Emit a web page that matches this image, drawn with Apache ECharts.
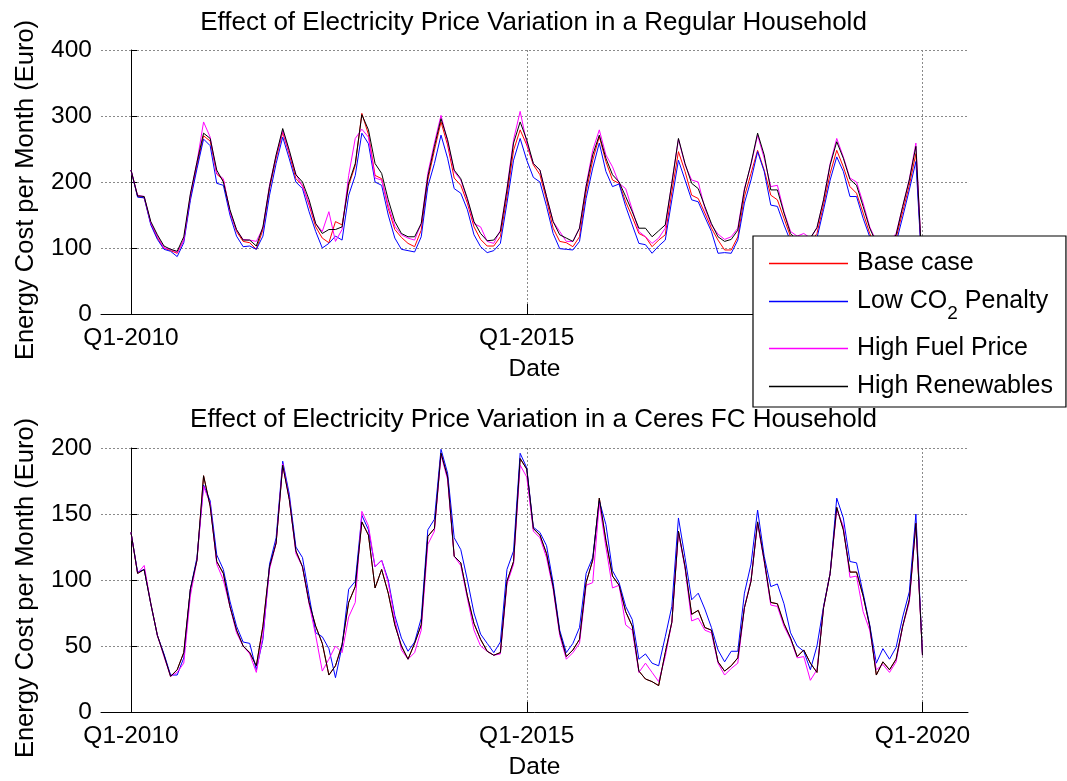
<!DOCTYPE html>
<html><head><meta charset="utf-8">
<script src="https://cdn.jsdelivr.net/npm/echarts@6/dist/echarts.min.js"></script>
<style>html,body{margin:0;padding:0;background:#fff}#c{width:1067px;height:781px}</style>
</head><body><div id="c"></div>
<script>
// ---- data (monthly, index 0 = Jan 2010 ... 120 = Jan 2020) ----
const tickValues = [0, 60, 120];
const tickLabels = ['Q1-2010', 'Q1-2015', 'Q1-2020'];
const seriesNames = ['Base case', 'Low CO2 Penalty', 'High Fuel Price', 'High Renewables'];
const titles = ['Effect of Electricity Price Variation in a Regular Household',
                'Effect of Electricity Price Variation in a Ceres FC Household'];

const baseTop = [
218,178,176,137,115,100,96,92,112,176,225,270,
262,212,203,155,125,110,108,98,128,190,236,275,
242,205,195,165,132,115,108,140,135,195,225,304,
272,210,205,160,128,116,107,102,127,203,248,291,
256,206,195,168,132,113,103,103,117,178,248,279,
256,226,211,173,130,110,108,102,117,185,233,269,
231,203,198,170,147,122,117,102,112,120,185,246,
216,180,175,153,130,112,97,97,117,178,213,248,
218,180,173,145,117,105,103,108,122,165,213,248,
223,193,183,153,122,100,97,100,115,155,195,243,
58];
const lowCO2Top = [
218,177,176,135,113,98,95,87,108,172,220,265,
255,198,195,150,118,102,103,98,118,180,228,268,
235,200,190,155,125,100,107,118,112,180,210,274,
258,200,195,150,115,98,96,94,117,193,228,271,
236,190,183,158,120,102,93,96,107,168,233,266,
233,207,200,163,122,99,98,97,110,175,221,259,
216,193,197,163,135,107,105,92,103,112,173,233,
203,173,170,147,125,92,93,92,112,168,203,246,
216,165,163,135,110,95,93,100,115,158,203,238,
216,178,178,145,117,95,92,95,108,147,188,231,
55];
const highFuelTop = [
218,180,178,138,118,100,98,93,112,180,230,291,
268,213,205,155,127,113,112,110,130,195,240,278,
245,212,193,168,137,125,155,110,128,210,266,280,
268,206,203,165,133,120,115,112,137,213,259,301,
261,216,203,173,137,132,110,107,127,190,264,307,
259,228,218,178,140,125,110,110,130,195,248,279,
241,223,198,190,158,125,117,107,115,130,200,265,
226,203,200,160,135,121,113,117,130,190,226,271,
236,193,195,155,125,118,122,115,130,173,228,266,
238,206,200,168,132,110,107,110,122,163,204,259,
60];
const highRenewTop = [
218,179,178,140,120,103,98,95,117,182,230,274,
266,218,200,158,128,112,112,103,132,193,241,281,
248,211,200,173,137,122,128,128,132,198,228,302,
279,228,213,173,140,122,117,117,137,208,254,296,
264,218,205,175,140,122,111,112,125,188,259,291,
264,228,218,178,140,120,115,110,130,193,241,271,
236,211,200,178,155,130,130,117,126,135,198,266,
228,198,190,163,137,117,110,113,127,188,228,274,
241,188,188,153,122,112,110,115,131,173,226,261,
236,204,195,163,130,108,105,108,120,163,203,254,
60];

const baseBottom = [
136,105,108,82,58,43,27,32,45,93,115,179,
156,114,105,80,62,50,45,35,65,110,128,187,
161,122,110,83,65,52,28,35,51,83,95,144,
134,94,108,90,66,50,40,52,66,133,139,196,
178,118,113,88,67,55,46,43,45,99,114,192,
184,139,134,120,95,60,42,47,55,98,115,162,
130,103,96,76,65,31,25,23,20,45,68,137,
110,74,77,64,62,38,31,35,41,79,99,144,
115,83,82,67,56,42,47,37,30,79,105,155,
138,106,106,88,65,28,38,32,40,65,85,143,
43];
const lowCO2Bottom = [
136,106,108,82,58,44,28,28,41,93,117,172,
160,119,108,84,65,53,52,32,55,112,132,190,
165,125,117,88,60,57,48,26,50,93,99,149,
138,110,115,100,73,56,46,53,71,138,146,199,
181,132,123,100,75,59,52,45,53,108,122,196,
185,140,136,126,98,62,45,52,64,105,117,160,
142,107,98,80,70,40,44,37,35,57,80,147,
117,85,90,78,64,47,38,46,46,90,112,153,
118,95,97,82,60,50,46,32,50,80,105,162,
147,114,113,90,66,37,48,40,49,72,91,150,
43];
const highFuelBottom = [
136,105,111,82,58,42,27,30,37,88,115,171,
158,112,100,80,60,50,44,30,58,108,128,188,
162,120,110,82,58,31,40,50,45,72,83,152,
141,110,115,98,70,47,40,45,62,127,137,195,
176,118,111,86,62,50,46,43,44,97,112,187,
178,137,132,117,93,58,40,45,52,96,98,158,
125,94,96,66,62,30,37,30,23,42,68,136,
109,69,71,62,60,37,28,33,37,79,100,143,
114,81,80,65,55,41,42,24,32,79,105,153,
141,102,103,76,62,32,36,30,38,65,83,143,
43];
const highRenewBottom = [
136,105,108,82,58,43,27,32,45,93,115,179,
156,114,105,80,62,50,45,35,65,110,128,187,
161,122,110,83,65,52,28,35,51,83,95,144,
134,94,108,90,66,50,40,52,66,133,139,196,
178,118,113,88,67,55,46,43,45,99,114,192,
184,139,134,120,95,60,42,47,55,98,115,162,
130,103,96,76,65,31,25,23,20,45,68,137,
110,74,77,64,62,38,31,35,41,79,99,144,
115,83,82,67,56,42,47,37,30,79,105,155,
138,106,106,88,65,28,38,32,40,65,85,143,
43];

// ---- styling ----
const FONT = "'Liberation Sans', Arial, Helvetica, sans-serif";
const FS = 24.5;
const colors = ['#ff0000', '#0000ff', '#ff00ff', '#000000'];
const gridLine = { show: true, lineStyle: { color: '#8a8a8a', width: 1, type: [2, 2] } };

function xAxisCfg(gi) {
  return {
    type: 'value', gridIndex: gi, min: -4.55, max: 126.9,
    name: 'Date', nameLocation: 'middle', nameGap: 43,
    nameTextStyle: { fontFamily: FONT, fontSize: FS, color: '#000' },
    axisLine: { show: true, onZero: false, lineStyle: { color: '#000', width: 1 } },
    axisTick: { show: true, inside: true, length: 10, customValues: tickValues, lineStyle: { color: '#000' } },
    axisLabel: { customValues: tickValues, margin: 12, fontFamily: FONT, fontSize: FS, color: '#000',
      formatter: v => { const k = tickValues.indexOf(v); return k >= 0 ? tickLabels[k] : ''; } },
    splitLine: gridLine
  };
}
function yAxisCfg(gi, max, interval) {
  return {
    type: 'value', gridIndex: gi, min: 0, max: max, interval: interval,
    name: 'Energy Cost per Month (Euro)', nameLocation: 'middle', nameGap: 62,
    nameTextStyle: { fontFamily: FONT, fontSize: 25.5, color: '#000', padding: [0, 16, 0, 0] },
    axisLine: { show: true, lineStyle: { color: '#000', width: 1 } },
    axisTick: { show: true, inside: true, length: 6, lineStyle: { color: '#000' } },
    axisLabel: { margin: 9, fontFamily: FONT, fontSize: FS, color: '#000' },
    splitLine: gridLine
  };
}
function mk(k, vals, gi) {
  return {
    type: 'line', name: seriesNames[k], xAxisIndex: gi, yAxisIndex: gi,
    data: vals.map((v, i) => [i, v]),
    symbol: 'none', showSymbol: false, color: colors[k],
    lineStyle: { color: colors[k], width: 1 },
    itemStyle: { color: colors[k] },
    emphasis: { disabled: true }, silent: true, animation: false
  };
}

const chart = echarts.init(document.getElementById('c'), null, { renderer: 'canvas' });
chart.setOption({
  animation: false,
  backgroundColor: '#fff',
  title: [
    { text: titles[0], left: 'center', top: 5, textStyle: { fontFamily: FONT, fontSize: 26, fontWeight: 'normal', color: '#000' } },
    { text: titles[1], left: 'center', top: 402, textStyle: { fontFamily: FONT, fontSize: 26, fontWeight: 'normal', color: '#000' } }
  ],
  grid: [
    { left: 101, top: 50, width: 867, height: 264, outerBoundsMode: 'none', containLabel: false },
    { left: 101, top: 448, width: 867, height: 264, outerBoundsMode: 'none', containLabel: false }
  ],
  xAxis: [xAxisCfg(0), xAxisCfg(1)],
  yAxis: [yAxisCfg(0, 400, 100), yAxisCfg(1, 200, 50)],
  legend: {
    orient: 'vertical', left: 753, top: 236,
    icon: 'rect', itemWidth: 79, itemHeight: 1.5, itemGap: 13,
    padding: [15, 13, 8, 16],
    backgroundColor: '#fff', borderColor: '#000', borderWidth: 1.2, borderRadius: 0,
    data: seriesNames,
    selectedMode: false,
    formatter: n => n === 'Low CO2 Penalty' ? 'Low CO{sub|2} Penalty' : n,
    textStyle: {
      fontFamily: FONT, fontSize: 25, color: '#000', padding: [0, 0, 0, 4],
      rich: { sub: { fontFamily: FONT, fontSize: 19, color: '#000', lineHeight: 1, verticalAlign: 'top', padding: [15, 0, 0, 0] } }
    }
  },
  series: [
    mk(0, baseTop, 0), mk(1, lowCO2Top, 0), mk(2, highFuelTop, 0), mk(3, highRenewTop, 0),
    mk(0, baseBottom, 1), mk(1, lowCO2Bottom, 1), mk(2, highFuelBottom, 1), mk(3, highRenewBottom, 1)
  ]
});
</script></body></html>
